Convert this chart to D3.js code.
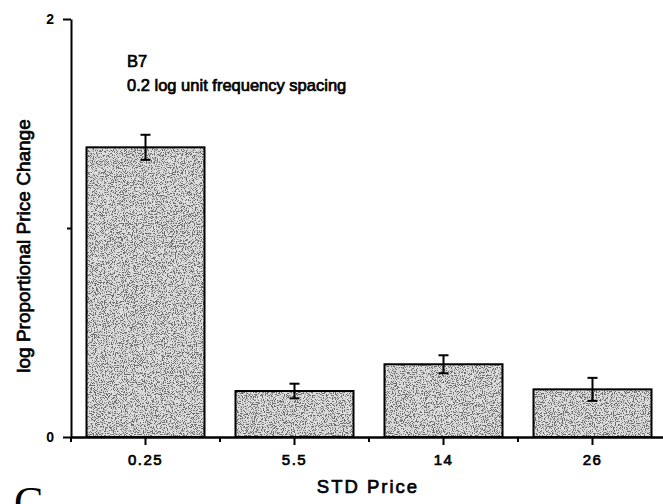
<!DOCTYPE html>
<html><head><meta charset="utf-8">
<script src="https://cdn.jsdelivr.net/npm/d3@7"></script>
<style>body{margin:0;background:#fff}svg{display:block}</style>
</head><body>
<script>
const categories = ["0.25", "5.5", "14", "26"];
const values = [1.386, 0.22, 0.348, 0.228];
const errors = [0.06, 0.035, 0.043, 0.055];
const yTicks = [0, 1, 2];
const yTickLabels = ["0", "", "2"];

const W = 663, H = 504;
const font = "Liberation Sans, Arial, sans-serif";
const svg = d3.select("body").append("svg").attr("width", W).attr("height", H);

const defs = svg.append("defs");
const f = defs.append("filter").attr("id","stip").attr("x",0).attr("y",0).attr("width","100%").attr("height","100%");
f.append("feTurbulence").attr("type","fractalNoise").attr("baseFrequency",0.9).attr("numOctaves",3).attr("seed",5).attr("result","n");
f.append("feColorMatrix").attr("in","n").attr("type","matrix")
 .attr("values","0 0 0 0 0.15  0 0 0 0 0.15  0 0 0 0 0.15  -9 0 0 0 4.5").attr("result","a");
f.append("feFlood").attr("flood-color","#dedede").attr("result","bg");
f.append("feComposite").attr("in","a").attr("in2","SourceGraphic").attr("operator","in").attr("result","dots");
f.append("feMerge").selectAll("feMergeNode").data(["bg","dots"]).join("feMergeNode").attr("in",d=>d);

const xc = d3.scaleBand().domain(categories).range([71, 667]);
const y = d3.scaleLinear().domain([0, 2]).range([437, 19]);
const barW = 118;
const cx = c => xc(c) + xc.bandwidth()/2;

// bars
const g = svg.append("g");
g.selectAll("rect.fill").data(values).join("rect").attr("class","fill")
  .attr("x",(d,i)=>cx(categories[i]) - barW/2)
  .attr("width",barW)
  .attr("y",d=>y(d)).attr("height",d=>y(0)-y(d))
  .attr("fill","#bbb").attr("filter","url(#stip)");
g.selectAll("rect.out").data(values).join("rect").attr("class","out")
  .attr("x",(d,i)=>cx(categories[i]) - barW/2)
  .attr("width",barW)
  .attr("y",d=>y(d)).attr("height",d=>y(0)-y(d))
  .attr("fill","none").attr("stroke","#000").attr("stroke-width",2);

// error bars
const eb = svg.append("g").attr("stroke","#000").attr("stroke-width",2);
values.forEach((v,i)=>{
  const c = cx(categories[i]);
  eb.append("line").attr("x1",c).attr("x2",c).attr("y1",y(v+errors[i])).attr("y2",y(v-errors[i]));
  eb.append("line").attr("x1",c-5).attr("x2",c+5).attr("y1",y(v+errors[i])).attr("y2",y(v+errors[i]));
  eb.append("line").attr("x1",c-5).attr("x2",c+5).attr("y1",y(v-errors[i])).attr("y2",y(v-errors[i]));
});

// y axis
const ya = svg.append("g").attr("transform","translate(71,0)")
  .call(d3.axisLeft(y).tickValues(yTicks).tickFormat((d,i)=>yTickLabels[i]).tickSize(8).tickPadding(9).tickSizeOuter(0));
ya.select(".domain").attr("stroke-width",2);
ya.selectAll(".tick line").attr("stroke-width",2).attr("x2",(d)=>d===1?-4:-8);
ya.selectAll("text").attr("font-family",font).attr("font-size",14).attr("font-weight","bold").attr("fill","#000");

// x axis
const xa = svg.append("g").attr("transform","translate(0,437)")
  .call(d3.axisBottom(xc).tickSize(8).tickPadding(9).tickSizeOuter(0));
xa.select(".domain").attr("stroke-width",2.5);
xa.selectAll(".tick line").attr("stroke-width",2);
xa.selectAll("text").attr("font-family",font).attr("font-size",15).attr("letter-spacing",1.5)
  .attr("stroke","#000").attr("stroke-width",0.7).attr("fill","#000");
// minor ticks at band boundaries
const mt = svg.append("g").attr("stroke","#000").attr("stroke-width",2);
categories.forEach(c=>{
  const bx = xc(c);
  mt.append("line").attr("x1",bx).attr("x2",bx).attr("y1",437).attr("y2",442);
});

// labels
const tx = (sel)=>sel.attr("font-family",font).attr("fill","#000").attr("stroke","#000").attr("stroke-width",0.7);
tx(svg.append("text").attr("x",127).attr("y",67).attr("font-size",16.5).text("B7"));
tx(svg.append("text").attr("x",127).attr("y",91).attr("font-size",16.5).text("0.2 log unit frequency spacing"));
tx(svg.append("text").attr("transform","translate(30,246) rotate(-90)").attr("text-anchor","middle")
  .attr("font-size",19).text("log Proportional Price Change"));
tx(svg.append("text").attr("x",368).attr("y",493).attr("text-anchor","middle")
  .attr("font-size",18.5).attr("letter-spacing",2).text("STD Price"));
svg.append("text").attr("x",14).attr("y",517).attr("font-family","Liberation Serif, Times New Roman, serif").attr("font-size",44).text("C");
</script>
</body></html>
